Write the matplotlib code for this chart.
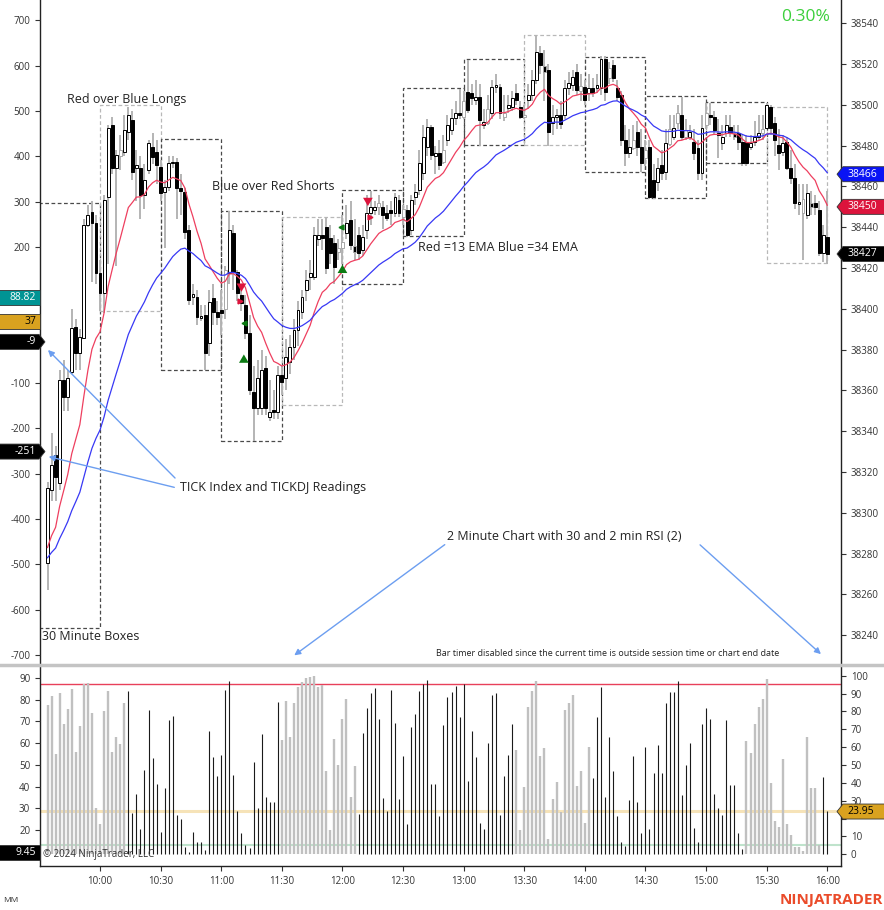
import matplotlib.pyplot as plt
from matplotlib.patches import Rectangle, Polygon, FancyArrowPatch
from matplotlib.lines import Line2D

plt.rcParams['font.family'] = ['Open Sans', 'DejaVu Sans']

# 2 minute bars, first bar stamped 9:34, last 16:00
opens = [38275.4, 38311.2, 38328.4, 38314.6, 38365.1, 38356.8, 38369.0, 38391.1, 38378.4, 38385.7,
         38441.1, 38447.5, 38442.1, 38417.6, 38407.8, 38454.8, 38490.1, 38469.0, 38475.0, 38476.9,
         38486.7, 38492.6, 38469.0, 38469.0, 38455.8, 38468.1, 38479.3, 38476.9, 38469.5, 38457.3,
         38459.7, 38471.5, 38472.0, 38459.2, 38457.3, 38438.7, 38405.8, 38405.8, 38395.5, 38397.0,
         38383.3, 38405.3, 38398.5, 38399.4, 38400.0, 38417.6, 38437.2, 38418.1, 38406.8, 38401.9,
         38388.2, 38359.2, 38351.4, 38351.4, 38371.0, 38347.0, 38350.4, 38349.4, 38367.6, 38366.1,
         38374.0, 38381.3, 38389.6, 38398.5, 38409.2, 38415.6, 38415.6, 38434.2, 38436.2, 38440.1,
         38434.7, 38432.3, 38428.0, 38430.0, 38437.2, 38443.6, 38431.0, 38436.2, 38428.9, 38438.7,
         38447.0, 38448.5, 38450.0, 38449.9, 38447.0, 38448.5, 38447.0, 38453.4, 38445.0, 38448.5,
         38438.7, 38454.8, 38458.3, 38466.6, 38479.3, 38489.1, 38474.9, 38476.4, 38472.0, 38482.8,
         38487.7, 38493.6, 38496.0, 38494.0, 38506.3, 38505.8, 38502.4, 38503.9, 38490.1, 38491.0,
         38496.0, 38508.8, 38508.8, 38494.0, 38498.5, 38498.9, 38505.8, 38498.9, 38494.0, 38502.4,
         38504.8, 38512.2, 38525.4, 38519.0, 38517.1, 38491.1, 38494.0, 38495.0, 38495.0, 38508.3,
         38509.7, 38516.1, 38507.0, 38508.8, 38505.8, 38508.3, 38508.3, 38508.3, 38522.5, 38513.0,
         38519.5, 38508.3, 38504.8, 38482.8, 38476.4, 38479.0, 38486.7, 38479.3, 38474.0, 38479.3,
         38463.2, 38462.2, 38470.5, 38467.1, 38481.0, 38484.2, 38491.0, 38495.0, 38484.2, 38484.2,
         38481.8, 38478.9, 38466.6, 38490.0, 38495.0, 38494.0, 38486.2, 38481.3, 38486.2, 38489.1,
         38486.0, 38486.2, 38481.8, 38481.8, 38479.3, 38481.8, 38484.2, 38486.0, 38488.6, 38499.0,
         38491.1, 38480.3, 38476.9, 38481.8, 38469.0, 38464.2, 38451.4, 38447.0, 38446.0, 38452.0,
         38451.9, 38448.5, 38427.4, 38435.2]
closes = [38312.2, 38323.5, 38317.6, 38365.1, 38356.8, 38366.1, 38390.6, 38378.4, 38386.2, 38441.1,
          38446.0, 38442.1, 38417.6, 38407.8, 38453.4, 38488.6, 38469.0, 38475.4, 38478.0, 38487.7,
          38495.0, 38467.1, 38470.5, 38455.8, 38463.2, 38481.3, 38474.4, 38470.5, 38456.8, 38459.7,
          38471.5, 38472.0, 38459.2, 38457.8, 38437.7, 38404.3, 38407.3, 38396.0, 38396.5, 38378.4,
          38403.4, 38398.5, 38396.0, 38398.0, 38419.0, 38438.7, 38418.1, 38407.8, 38402.9, 38388.2,
          38360.2, 38351.4, 38366.1, 38370.0, 38351.4, 38349.5, 38349.4, 38367.6, 38364.1, 38376.4,
          38381.3, 38389.6, 38399.4, 38405.8, 38414.1, 38417.6, 38436.2, 38436.2, 38434.7, 38420.0,
          38427.4, 38420.5, 38430.0, 38433.0, 38442.1, 38431.3, 38428.0, 38427.4, 38435.2, 38447.0,
          38449.9, 38450.0, 38452.0, 38446.0, 38444.5, 38447.0, 38454.8, 38447.0, 38449.0, 38436.2,
          38453.4, 38457.3, 38471.5, 38484.2, 38489.1, 38475.4, 38476.4, 38470.5, 38478.0, 38490.1,
          38493.6, 38496.0, 38495.0, 38502.0, 38497.5, 38503.4, 38503.9, 38492.6, 38491.6, 38498.0,
          38508.8, 38509.7, 38496.0, 38496.0, 38500.0, 38503.4, 38502.4, 38494.0, 38495.0, 38504.8,
          38512.2, 38525.9, 38519.5, 38516.0, 38486.7, 38494.0, 38495.0, 38490.6, 38508.3, 38510.7,
          38513.6, 38507.3, 38509.0, 38502.4, 38508.3, 38505.8, 38509.7, 38522.5, 38506.3, 38518.0,
          38513.2, 38503.9, 38482.8, 38476.4, 38479.3, 38483.0, 38479.3, 38471.5, 38478.0, 38454.8,
          38454.8, 38469.0, 38466.6, 38481.3, 38488.0, 38488.6, 38496.0, 38484.2, 38487.7, 38486.7,
          38476.4, 38466.6, 38488.6, 38496.0, 38494.0, 38487.7, 38485.2, 38484.2, 38490.1, 38486.2,
          38484.0, 38481.8, 38471.5, 38471.5, 38481.3, 38484.2, 38486.2, 38488.0, 38499.9, 38488.6,
          38482.8, 38476.4, 38481.3, 38469.0, 38464.2, 38451.9, 38452.4, 38454.0, 38456.8, 38450.0,
          38449.9, 38427.4, 38436.2, 38426.9]
highs = [38315, 38339, 38333, 38370, 38375, 38370, 38400, 38395, 38390, 38444,
         38451, 38453, 38446, 38424, 38456, 38490, 38494, 38478, 38485, 38495,
         38499, 38497, 38478, 38475, 38471, 38483, 38486, 38483, 38473, 38463,
         38475, 38475, 38474, 38466, 38459, 38441, 38412, 38409, 38402, 38402,
         38409, 38412, 38404, 38409, 38421, 38448, 38441, 38419, 38412, 38407,
         38397, 38372, 38375, 38380, 38377, 38365, 38360, 38372, 38372, 38385,
         38387, 38395, 38404, 38409, 38419, 38424, 38440, 38444, 38444, 38445,
         38441, 38436, 38434, 38446, 38451, 38453, 38444, 38440, 38441, 38456,
         38458, 38453, 38456, 38453, 38451, 38453, 38457, 38456, 38451, 38451,
         38456, 38461, 38478, 38490, 38493, 38490, 38480, 38483, 38485, 38495,
         38498, 38502, 38508, 38507, 38522, 38510, 38512, 38510, 38498, 38505,
         38512, 38515, 38510, 38505, 38505, 38507, 38510, 38502, 38500, 38510,
         38517, 38534, 38529, 38527, 38520, 38500, 38498, 38502, 38512, 38516,
         38517, 38520, 38515, 38512, 38515, 38513, 38515, 38524, 38524, 38521,
         38522, 38512, 38507, 38490, 38488, 38490, 38492, 38488, 38483, 38483,
         38471, 38474, 38478, 38488, 38495, 38495, 38500, 38504, 38493, 38490,
         38488, 38483, 38495, 38501, 38501, 38497, 38493, 38490, 38495, 38495,
         38490, 38490, 38485, 38485, 38485, 38492, 38495, 38495, 38501, 38500,
         38494, 38488, 38485, 38484, 38478, 38471, 38461, 38461, 38461, 38458,
         38456, 38453, 38441, 38458]
lows = [38262, 38306, 38306, 38311, 38350, 38350, 38368, 38370, 38370, 38385,
        38440, 38413, 38412, 38399, 38398, 38422, 38466, 38421, 38468, 38475,
        38483, 38463, 38453, 38444, 38449, 38466, 38471, 38461, 38453, 38430,
        38458, 38469, 38444, 38446, 38434, 38402, 38402, 38392, 38394, 38370,
        38377, 38392, 38392, 38387, 38395, 38412, 38409, 38404, 38399, 38385,
        38358, 38335, 38348, 38348, 38348, 38345, 38346, 38346, 38358, 38360,
        38368, 38375, 38382, 38395, 38404, 38409, 38414, 38431, 38429, 38417,
        38422, 38412, 38424, 38422, 38434, 38429, 38424, 38424, 38426, 38434,
        38441, 38446, 38446, 38439, 38443, 38441, 38445, 38445, 38441, 38435,
        38436, 38451, 38456, 38463, 38475, 38473, 38466, 38468, 38471, 38480,
        38485, 38490, 38493, 38493, 38496, 38500, 38500, 38480, 38488, 38490,
        38493, 38506, 38493, 38492, 38496, 38497, 38500, 38493, 38493, 38498,
        38502, 38510, 38515, 38502, 38480, 38485, 38488, 38488, 38493, 38505,
        38507, 38505, 38502, 38500, 38502, 38504, 38506, 38505, 38502, 38510,
        38511, 38502, 38480, 38470, 38474, 38478, 38475, 38467, 38470, 38454,
        38454, 38458, 38463, 38463, 38480, 38483, 38488, 38483, 38483, 38483,
        38473, 38463, 38463, 38488, 38490, 38485, 38474, 38478, 38484, 38484,
        38483, 38478, 38470, 38470, 38478, 38480, 38483, 38483, 38488, 38485,
        38475, 38468, 38475, 38468, 38461, 38449, 38446, 38424, 38444, 38446,
        38446, 38426, 38423, 38422]
grey_bars = [18, 44, 72, 73, 76, 82, 88, 98, 103, 109, 113, 118, 123, 132, 139,
             145, 148, 154, 156, 158, 163, 170, 177, 187, 189]

ema13_start = 38283
ema34_start = 38278

# 30 minute boxes
box_start = ['9:30', '10:00', '10:30', '11:00', '11:30', '12:00', '12:30',
             '13:00', '13:30', '14:00', '14:30', '15:00', '15:30']
box_high = [38451.9, 38499.9, 38483.3, 38448.0, 38445.0, 38458.3, 38508.3,
            38522.5, 38534.2, 38523.5, 38504.3, 38501.4, 38498.9]
box_low = [38243.6, 38399.0, 38370.0, 38335.2, 38352.9, 38412.2, 38435.7,
           38480.3, 38480.3, 38467.1, 38454.3, 38471.5, 38422.5]
box_light = [False, True, False, False, True, False, False,
             False, True, False, False, False, True]

# trade signal markers (bar, price)
short_arrows = [(48.0, 38413, 38407), (79.3, 38455, 38449)]
long_arrows = [(48.6, 38373, 38379), (73.0, 38417, 38423)]
short_dots = [(47.6, 38404), (79.8, 38445)]
long_dots = [(48.6, 38393), (72.6, 38440)]

# RSI panel, one value per bar
rsi = [83.6, 88.8, 56.2, 90.3, 73.2, 81.4, 92.8, 57.3, 72.0, 95.2,
       95.9, 79.3, 25.9, 16.8, 80.4, 91.5, 57.5, 65.7, 62.0, 84.9,
       91.5, 23.3, 33.8, 14.2, 47.2, 80.6, 54.1, 39.4, 12.7, 37.3,
       75.0, 77.5, 22.0, 19.8, 4.1, 1.5, 12.3, 6.9, 6.9, 2.2,
       69.2, 54.7, 43.9, 55.8, 91.8, 97.1, 44.6, 24.3, 12.1, 5.2,
       3.7, 51.7, 25.9, 67.4, 32.1, 29.1, 29.1, 85.3, 64.0, 85.9,
       65.9, 84.9, 93.9, 96.5, 98.9, 99.5, 100.0, 93.9, 94.6, 46.8,
       13.6, 64.6, 50.0, 75.8, 87.2, 32.3, 49.5, 22.6, 67.9, 82.1,
       90.1, 93.1, 76.0, 31.4, 24.4, 92.2, 73.5, 31.0, 55.2, 17.2,
       71.5, 78.4, 91.5, 95.4, 97.6, 39.4, 39.4, 21.6, 72.4, 87.9,
       91.0, 94.4, 77.1, 95.3, 41.2, 69.0, 54.5, 17.7, 14.2, 62.3,
       89.4, 90.3, 22.0, 43.7, 55.8, 73.1, 58.2, 13.6, 37.7, 82.5,
       91.6, 97.2, 55.0, 59.5, 8.6, 31.2, 40.5, 23.7, 80.8, 84.7,
       89.4, 38.2, 46.8, 17.7, 59.9, 42.5, 76.9, 93.8, 32.3, 65.9,
       46.6, 21.6, 6.9, 4.8, 30.4, 55.0, 29.3, 11.9, 59.9, 14.2,
       45.5, 61.4, 45.5, 84.9, 90.9, 90.9, 96.8, 33.0, 50.0, 62.3,
       14.6, 6.9, 72.8, 81.9, 75.7, 34.0, 26.0, 22.0, 75.0, 39.0,
       39.0, 12.0, 3.0, 63.4, 56.9, 73.1, 82.5, 87.0, 98.4, 39.9,
       18.7, 15.5, 53.6, 17.0, 11.0, 4.1, 4.1, 2.1, 65.9, 37.3,
       37.3, 5.2, 43.5, 24.3]
rsi_grey_runs = [(0, 19), (58, 76), (116, 134), (173, 191)]
rsi_upper = 95.2
rsi_mid = 24.0
rsi_lower = 5.4

time_labels = ['10:00', '10:30', '11:00', '11:30', '12:00', '12:30', '13:00',
               '13:30', '14:00', '14:30', '15:00', '15:30', '16:00']
# labels that sit under the value tags
tick_hidden = [0, 100]
rsi_left_hidden = [10]
rsi_right_hidden = [20]

W, H = 884, 910


def t2i(t):
    h, m = t.split(':')
    return (int(h) * 60 + int(m) - 574) / 2


def fx(x):
    return x / W


def fy(y):
    return 1 - y / H


def style_ticks(a, side):
    a.yaxis.set_ticks_position(side)
    a.tick_params(axis='y', which='both', left=(side == 'left'), right=(side == 'right'),
                  labelleft=(side == 'left'), labelright=(side == 'right'),
                  direction='out', length=3.5, width=0.8, colors='#333', labelsize=7)


def set_ticks(a, vals, hidden):
    a.set_yticks(vals)
    a.set_yticklabels(['' if v in hidden else str(v) for v in vals])


fig = plt.figure(figsize=(W / 100, H / 100), dpi=100)
ax = fig.add_axes([fx(40), fy(664), (841 - 40) / W, 664 / H])
axR = fig.add_axes([fx(40), fy(866), (841 - 40) / W, (866 - 667) / H])
axL = ax.twinx()
axRL = axR.twinx()

n = len(closes)
xs = list(range(n))

# boxes
for k in range(len(box_start)):
    x0 = t2i(box_start[k])
    col = '#b8b8b8' if box_light[k] else '#4a4a4a'
    ax.add_patch(Rectangle((x0, box_low[k]), 15, box_high[k] - box_low[k],
                           fill=False, ec=col, lw=0.9, ls=(0, (3, 2)), zorder=1))

# candles
ax.vlines(xs, lows, highs, color='#b4b4b4', lw=1.4, zorder=2)
for i in xs:
    o, c = opens[i], closes[i]
    up = c >= o
    ec = '#a8a8a8' if i in grey_bars else 'black'
    ax.add_patch(Rectangle((i - 0.36, min(o, c)), 0.72, max(abs(c - o), 0.5),
                           fc='white' if up else 'black', ec=ec, lw=0.7, zorder=3))

# EMAs
ema13 = [ema13_start]
ema34 = [ema34_start]
for c in closes[1:]:
    ema13.append(ema13[-1] + (c - ema13[-1]) * 2 / 14)
    ema34.append(ema34[-1] + (c - ema34[-1]) * 2 / 35)
ax.plot(xs, ema13, color='#ee3f5f', lw=0.9, zorder=4)
ax.plot(xs, ema34, color='#3838f5', lw=0.9, zorder=4)

arrow_style = 'simple,head_width=0.7,head_length=0.6,tail_width=0.3'
for x, a, b in short_arrows:
    ax.annotate('', xy=(x, b), xytext=(x, a), zorder=5,
                arrowprops=dict(arrowstyle=arrow_style, color='#dc143c', lw=0))
for x, a, b in long_arrows:
    ax.annotate('', xy=(x, b), xytext=(x, a), zorder=5,
                arrowprops=dict(arrowstyle=arrow_style, color='#0b7a12', lw=0))
for x, p in short_dots:
    ax.plot(x, p, marker='>', color='#dc143c', ms=3.5, zorder=5)
for x, p in long_dots:
    ax.plot(x, p, marker='<', color='#0b7a12', ms=3.5, zorder=5)

ax.set_xlim(-1.86, 196.4)
ax.set_ylim(38225.9, 38551.4)
ax.set_yticks(range(38240, 38541, 20))
ax.set_xticks([])
style_ticks(ax, 'right')
for s in ['top', 'bottom']:
    ax.spines[s].set_visible(False)
for s in ['left', 'right']:
    ax.spines[s].set_color('#222')
    ax.spines[s].set_linewidth(1.0)

axL.set_ylim(-719.6, 745.2)
set_ticks(axL, list(range(-700, 701, 100)), tick_hidden)
style_ticks(axL, 'left')
for s in axL.spines.values():
    s.set_visible(False)

# RSI panel
grey_idx = set()
for a, b in rsi_grey_runs:
    grey_idx.update(range(a, b + 1))
gx = [i for i in xs if i in grey_idx]
bx = [i for i in xs if i not in grey_idx]
axR.vlines(gx, 0, [rsi[i] for i in gx], color='#c0c0c0', lw=1.7, zorder=2)
axR.vlines(bx, 0, [rsi[i] for i in bx], color='#1a1a1a', lw=0.8, zorder=3)
axR.axhline(rsi_upper, color='#e8405a', lw=1.0, zorder=1)
axR.axhline(rsi_mid, color='#f6e3b8', lw=2.2, zorder=1)
axR.axhline(rsi_lower, color='#bfe3cc', lw=1.5, zorder=1)
axR.set_xlim(-1.86, 196.4)
axR.set_ylim(-6.55, 104.87)
set_ticks(axR, list(range(0, 101, 10)), rsi_right_hidden)
style_ticks(axR, 'right')
axR.set_xticks([t2i(t) for t in time_labels])
axR.set_xticklabels(time_labels)
axR.tick_params(axis='x', direction='out', length=3.5, width=0.8, colors='#333', labelsize=7)
axR.spines['top'].set_visible(False)
for s in ['left', 'right', 'bottom']:
    axR.spines[s].set_color('#222')
    axR.spines[s].set_linewidth(1.0)

axRL.set_ylim(3.42, 95.08)
set_ticks(axRL, list(range(10, 91, 10)), rsi_left_hidden)
style_ticks(axRL, 'left')
for s in axRL.spines.values():
    s.set_visible(False)

# panel separator
fig.add_artist(Line2D([0, 1], [fy(665), fy(665)], transform=fig.transFigure,
                      color='#c4c4c4', lw=2.5, zorder=6))


def tag(x0, x1, yc, fc, label, tc, tip=None, h=15):
    top, bot = yc - h / 2, yc + h / 2
    if tip == 'left':
        pts = [(x0, yc), (x0 + 6, top), (x1, top), (x1, bot), (x0 + 6, bot)]
        tx, ha = x0 + 10, 'left'
    elif tip == 'right':
        pts = [(x0, top), (x1 - 6, top), (x1, yc), (x1 - 6, bot), (x0, bot)]
        tx, ha = x1 - 9, 'right'
    else:
        pts = [(x0, top), (x1, top), (x1, bot), (x0, bot)]
        tx, ha = x1 - 4, 'right'
    fig.add_artist(Polygon([(fx(a), fy(b)) for a, b in pts], closed=True,
                           transform=fig.transFigure, fc=fc, ec='#333', lw=0.6, zorder=10))
    fig.text(fx(tx), fy(yc), label, color=tc, fontsize=7.5, ha=ha, va='center', zorder=11)


def ypx(axis, v):
    return H - axis.transData.transform((0, v))[1]


tag(837, 886, ypx(ax, 38466), '#0a14f5', '38466', 'white', tip='left')
tag(837, 886, ypx(ax, 38450), '#dc143c', '38450', 'white', tip='left')
tag(837, 886, ypx(ax, closes[-1]), 'black', '38427', 'white', tip='left')
tag(-2, 40, ypx(axL, 88.82), '#009494', '88.82', 'white')
tag(-2, 40, ypx(axL, 37), '#d9a21f', '37', 'black')
tag(-2, 45, ypx(axL, -9), 'black', '-9', 'white', tip='right')
tag(-2, 45, ypx(axL, -251), 'black', '-251', 'white', tip='right')
tag(-2, 40, ypx(axRL, 9.45), 'black', '9.45', 'white')
tag(837, 886, ypx(axR, 23.95), '#d9a21f', '23.95', 'black', tip='left')

# annotations
txt = dict(fontsize=9, color='#222', va='center', ha='left')
fig.text(fx(67), fy(99), 'Red over Blue Longs', **txt)
fig.text(fx(212), fy(187), 'Blue over Red Shorts', **txt)
fig.text(fx(418), fy(248), 'Red =13 EMA Blue =34 EMA', **txt)
fig.text(fx(180), fy(488), 'TICK Index and TICKDJ Readings', **txt)
fig.text(fx(42), fy(637), '30 Minute Boxes', **txt)
fig.text(fx(447), fy(536), '2 Minute Chart with 30 and 2 min RSI (2)', **txt)
fig.text(fx(436), fy(653), 'Bar timer disabled since the current time is outside session time or chart end date',
         fontsize=6.5, color='#222', va='center', ha='left')
fig.text(fx(806), fy(17), '0.30%', fontsize=12.5, color='#3ccf3c', va='center', ha='center')
fig.text(fx(43), fy(855), '\u00a9 2024 NinjaTrader, LLC', fontsize=7, color='#333', va='center', ha='left')
fig.text(fx(3), fy(900), 'MM', fontsize=6, color='#333', va='center', ha='left')
fig.text(fx(883), fy(900), 'NINJATRADER', fontsize=11, weight='bold', color='#ea4b2a',
         va='center', ha='right')

arrows = [((177, 480), (46, 348)), ((177, 488), (46, 456)),
          ((447, 543), (292, 657)), ((698, 543), (823, 656))]
for (xa, ya), (xb, yb) in arrows:
    fig.add_artist(FancyArrowPatch((fx(xa), fy(ya)), (fx(xb), fy(yb)), transform=fig.transFigure,
                                   arrowstyle='-|>', mutation_scale=9, lw=1.0,
                                   color='#6c9ef0', zorder=9))

fig.savefig('out.png', dpi=100)
